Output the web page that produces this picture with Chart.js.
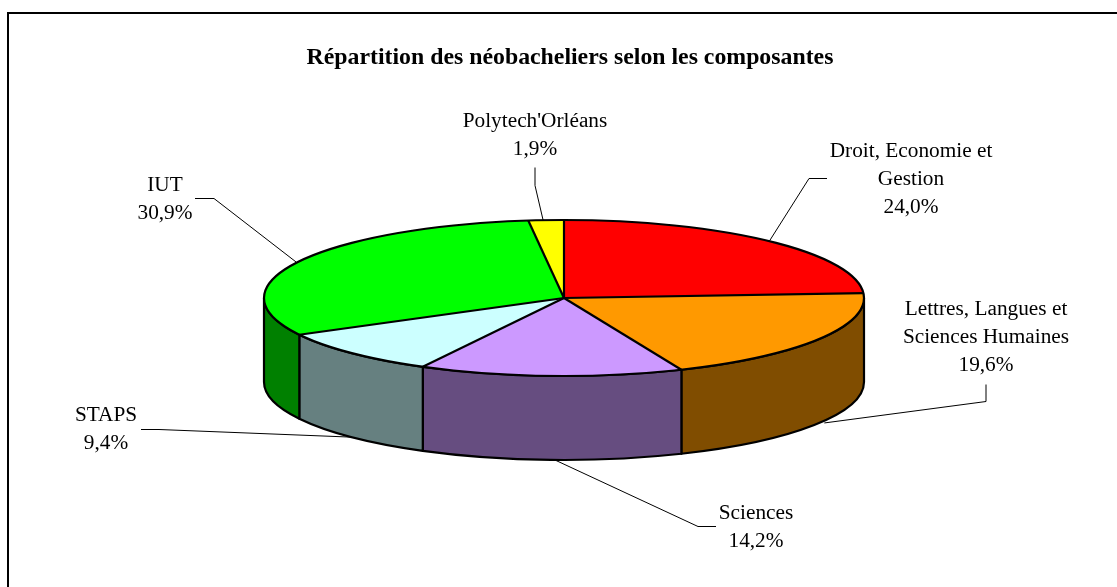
<!DOCTYPE html>
<html lang="fr">
<head>
<meta charset="utf-8">
<title>Répartition des néobacheliers selon les composantes</title>
<script src="https://cdn.jsdelivr.net/npm/chart.js@4/dist/chart.umd.min.js"></script>
<style>
html,body{margin:0;padding:0;background:#fff;overflow:hidden}
canvas{display:block}
</style>
</head>
<body>
<canvas id="c" width="1117" height="587"></canvas>
<script>
const chartTitle = "Répartition des néobacheliers selon les composantes";
const categories = ["Droit, Economie et Gestion", "Lettres, Langues et Sciences Humaines", "Sciences", "STAPS", "IUT", "Polytech'Orléans"];
const values = [24.0, 19.6, 14.2, 9.4, 30.9, 1.9];
const topColors = ["#FF0000", "#FF9900", "#CC99FF", "#CCFFFF", "#00FF00", "#FFFF00"];
const wallColors = ["#800000", "#804D00", "#664D80", "#668080", "#008000", "#808000"];
const labelLines = [["Droit, Economie et", "Gestion"], ["Lettres, Langues et", "Sciences Humaines"], ["Sciences"], ["STAPS"], ["IUT"], ["Polytech'Orléans"]];

// Layout of the drawing (not data)
const FONT = '"Liberation Serif","Times New Roman",serif';
const PIE = {cx: 564, cy: 298, rx: 300, ry: 78, depth: 84};
const LABEL_POS = [
  {x: 911, y: 151}, {x: 986, y: 309}, {x: 756, y: 513},
  {x: 106, y: 415}, {x: 165, y: 185}, {x: 535, y: 121}
];
// leader elbows, from the label to the slice; `wall` = attaches on the lower rim
const LEADERS = [
  {pts: [[827,178],[809,178]], wall: false, dx: 0},
  {pts: [[986,384],[986,401]], wall: true, dx: 5},
  {pts: [[716,526],[698,526]], wall: true, dx: 4},
  {pts: [[141,429],[159,429]], wall: true, dx: 0},
  {pts: [[195,198],[214,198]], wall: false, dx: -2},
  {pts: [[535,167],[535,185]], wall: false, dx: -3}
];

const pct = v => v.toFixed(1).replace('.', ',') + '%';

const pie3d = {
  id: 'pie3d',
  beforeDatasetsDraw(chart) {
    const ctx = chart.ctx, arcs = chart.getDatasetMeta(0).data, P = PIE;
    // outer wall, only the part of each slice facing the viewer
    ctx.save();
    ctx.lineWidth = 2.2; ctx.strokeStyle = '#000'; ctx.lineJoin = 'round';
    arcs.forEach((a, i) => {
      const norm = t => ((t % (2*Math.PI)) + 2*Math.PI) % (2*Math.PI);
      let s = norm(a.startAngle), e = s + (a.endAngle - a.startAngle);
      const segs = [[s, e], [s - 2*Math.PI, e - 2*Math.PI]];
      segs.forEach(([s0, e0]) => {
        const s1 = Math.max(s0, 0), e1 = Math.min(e0, Math.PI);
        if (e1 <= s1) return;
        ctx.beginPath();
        ctx.ellipse(P.cx, P.cy, P.rx, P.ry, 0, s1, e1);
        ctx.ellipse(P.cx, P.cy + P.depth, P.rx, P.ry, 0, e1, s1, true);
        ctx.closePath();
        ctx.fillStyle = wallColors[i];
        ctx.fill(); ctx.stroke();
      });
    });
    ctx.restore();
    // squash the library's flat pie on to the top face
    const a0 = arcs[0], R = a0.outerRadius;
    ctx.save();
    ctx.translate(P.cx, P.cy);
    ctx.scale(P.rx / R, P.ry / R);
    ctx.translate(-a0.x, -a0.y);
  },
  afterDatasetsDraw(chart) {
    const ctx = chart.ctx, arcs = chart.getDatasetMeta(0).data, P = PIE;
    ctx.restore();
    // top face outlines
    ctx.save();
    ctx.lineWidth = 2.2; ctx.strokeStyle = '#000'; ctx.lineJoin = 'round';
    ctx.beginPath();
    ctx.ellipse(P.cx, P.cy, P.rx, P.ry, 0, 0, 2*Math.PI);
    ctx.stroke();
    arcs.forEach(a => {
      ctx.beginPath();
      ctx.moveTo(P.cx, P.cy);
      ctx.lineTo(P.cx + P.rx*Math.cos(a.startAngle), P.cy + P.ry*Math.sin(a.startAngle));
      ctx.stroke();
    });
    // leader lines
    ctx.lineWidth = 1; ctx.lineJoin = 'miter';
    arcs.forEach((a, i) => {
      const m = (a.startAngle + a.endAngle) / 2, L = LEADERS[i];
      const ax = P.cx + P.rx*Math.cos(m) + L.dx;
      const ay = P.cy + P.ry*Math.sin(m) + (L.wall ? P.depth : 0);
      ctx.beginPath();
      ctx.moveTo(L.pts[0][0], L.pts[0][1] + .5);
      ctx.lineTo(L.pts[1][0], L.pts[1][1] + .5);
      ctx.lineTo(ax, ay);
      ctx.stroke();
    });
    // labels
    ctx.fillStyle = '#000';
    ctx.font = '21.3px ' + FONT;
    ctx.textAlign = 'center'; ctx.textBaseline = 'middle';
    categories.forEach((_, i) => {
      const lines = labelLines[i].concat(pct(values[i])), p = LABEL_POS[i];
      lines.forEach((t, k) => ctx.fillText(t, p.x, p.y + k*28));
    });
    // frame: top and left rules
    ctx.fillStyle = '#000';
    ctx.fillRect(7, 12, 1110, 2);
    ctx.fillRect(7, 12, 2, 575);
    ctx.restore();
  }
};

new Chart(document.getElementById('c'), {
  type: 'pie',
  data: {
    labels: categories,
    datasets: [{data: values, backgroundColor: topColors, borderWidth: 0, clip: false}]
  },
  options: {
    responsive: false,
    animation: false,
    rotation: 0,
    layout: {padding: {left: 100, right: 77, top: 0, bottom: 0}},
    plugins: {
      legend: {display: false},
      tooltip: {enabled: false},
      title: {
        display: true, text: chartTitle, color: '#000',
        font: {family: FONT, size: 23.8, weight: 'bold'},
        padding: {top: 44, bottom: 10}
      }
    }
  },
  plugins: [pie3d, {id: 'bg', beforeDraw(c){ c.ctx.save(); c.ctx.fillStyle='#fff'; c.ctx.fillRect(0,0,c.width,c.height); c.ctx.restore(); }}]
});
</script>
</body>
</html>
